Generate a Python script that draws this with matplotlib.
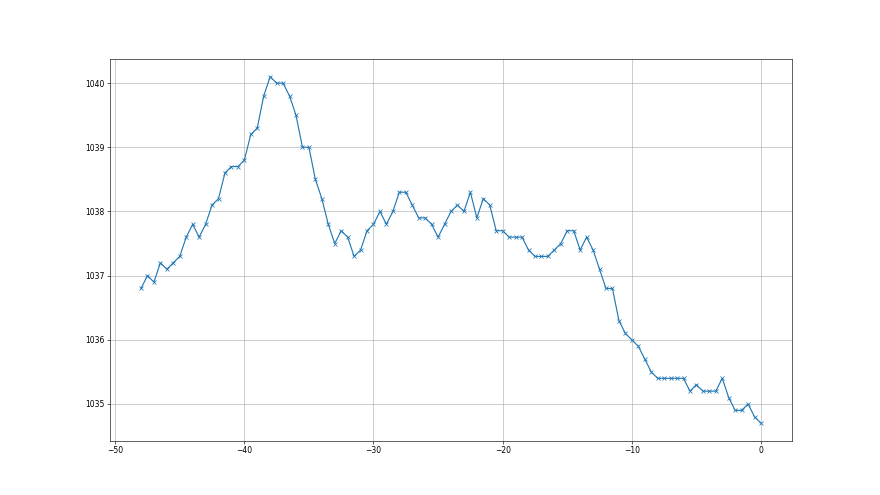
import matplotlib
matplotlib.use("Agg")
import matplotlib.pyplot as plt

x_vals = [-48.0, -47.5, -47.0, -46.5, -46.0, -45.5, -45.0, -44.5, -44.0, -43.5,
          -43.0, -42.5, -42.0, -41.5, -41.0, -40.5, -40.0, -39.5, -39.0, -38.5,
          -38.0, -37.5, -37.0, -36.5, -36.0, -35.5, -35.0, -34.5, -34.0, -33.5,
          -33.0, -32.5, -32.0, -31.5, -31.0, -30.5, -30.0, -29.5, -29.0, -28.5,
          -28.0, -27.5, -27.0, -26.5, -26.0, -25.5, -25.0, -24.5, -24.0, -23.5,
          -23.0, -22.5, -22.0, -21.5, -21.0, -20.5, -20.0, -19.5, -19.0, -18.5,
          -18.0, -17.5, -17.0, -16.5, -16.0, -15.5, -15.0, -14.5, -14.0, -13.5,
          -13.0, -12.5, -12.0, -11.5, -11.0, -10.5, -10.0, -9.5, -9.0, -8.5,
          -8.0, -7.5, -7.0, -6.5, -6.0, -5.5, -5.0, -4.5, -4.0, -3.5,
          -3.0, -2.5, -2.0, -1.5, -1.0, -0.5, 0.0]

y_vals = [1036.8, 1037.0, 1036.9, 1037.2, 1037.1, 1037.2, 1037.3, 1037.6, 1037.8, 1037.6,
          1037.8, 1038.1, 1038.2, 1038.6, 1038.7, 1038.7, 1038.8, 1039.2, 1039.3, 1039.8,
          1040.1, 1040.0, 1040.0, 1039.8, 1039.5, 1039.0, 1039.0, 1038.5, 1038.2, 1037.8,
          1037.5, 1037.7, 1037.6, 1037.3, 1037.4, 1037.7, 1037.8, 1038.0, 1037.8, 1038.0,
          1038.3, 1038.3, 1038.1, 1037.9, 1037.9, 1037.8, 1037.6, 1037.8, 1038.0, 1038.1,
          1038.0, 1038.3, 1037.9, 1038.2, 1038.1, 1037.7, 1037.7, 1037.6, 1037.6, 1037.6,
          1037.4, 1037.3, 1037.3, 1037.3, 1037.4, 1037.5, 1037.7, 1037.7, 1037.4, 1037.6,
          1037.4, 1037.1, 1036.8, 1036.8, 1036.3, 1036.1, 1036.0, 1035.9, 1035.7, 1035.5,
          1035.4, 1035.4, 1035.4, 1035.4, 1035.4, 1035.2, 1035.3, 1035.2, 1035.2, 1035.2,
          1035.4, 1035.1, 1034.9, 1034.9, 1035.0, 1034.8, 1034.7]

fig, ax = plt.subplots(figsize=(16, 9), dpi=55)
ax.plot(x_vals, y_vals, marker="x", color="#1f77b4")
ax.grid(True)
fig.savefig("out.png", dpi=55)
